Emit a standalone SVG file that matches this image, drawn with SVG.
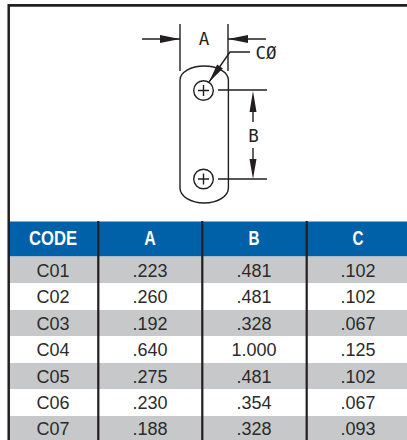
<svg xmlns="http://www.w3.org/2000/svg" width="407" height="440" viewBox="0 0 407 440">
<style>
.b{stroke:#231f20;fill:none}
.r{fill:#c7c8ca}
.h{font-family:"Liberation Sans",Arial,sans-serif;font-weight:700;font-size:19.500px;fill:#fff;text-anchor:middle}
.t{font-family:"Liberation Sans",Arial,sans-serif;font-size:18px;fill:#2b2b2c;text-anchor:middle}
.d{font-family:"DejaVu Sans Mono",monospace;font-size:17.500px;fill:#231f20;text-anchor:middle}
.a{fill:#231f20;stroke:none}
</style>
<rect width="407" height="440" fill="#fff"/>
<g id="table">
<rect x="8" y="221.500" width="399" height="35" fill="#0061a8"/>
<rect class="r" x="8" y="256.500" width="399" height="26.500"/>
<rect class="r" x="8" y="310" width="399" height="26"/>
<rect class="r" x="8" y="363" width="399" height="26"/>
<rect class="r" x="8" y="416" width="399" height="24"/>
<path class="b" stroke-width="2.500" d="M8.700 440V4"/>
<path class="b" stroke-width="2.200" d="M98.300 221V440M202.300 221V440M306.700 221V440"/>
<path class="b" stroke-width="2.800" d="M8 5.400H407"/>
<text class="h" x="53" y="245" textLength="48" lengthAdjust="spacingAndGlyphs">CODE</text><text class="h" x="150" y="245" textLength="11.500" lengthAdjust="spacingAndGlyphs">A</text><text class="h" x="254" y="245" textLength="11" lengthAdjust="spacingAndGlyphs">B</text><text class="h" x="358" y="245" textLength="11" lengthAdjust="spacingAndGlyphs">C</text>
<text class="t" x="53" y="277">C01</text><text class="t" x="150" y="277">.223</text><text class="t" x="254" y="277">.481</text><text class="t" x="358" y="277">.102</text>
<text class="t" x="53" y="303">C02</text><text class="t" x="150" y="303">.260</text><text class="t" x="254" y="303">.481</text><text class="t" x="358" y="303">.102</text>
<text class="t" x="53" y="330">C03</text><text class="t" x="150" y="330">.192</text><text class="t" x="254" y="330">.328</text><text class="t" x="358" y="330">.067</text>
<text class="t" x="53" y="356">C04</text><text class="t" x="150" y="356">.640</text><text class="t" x="254" y="356">1.000</text><text class="t" x="358" y="356">.125</text>
<text class="t" x="53" y="383">C05</text><text class="t" x="150" y="383">.275</text><text class="t" x="254" y="383">.481</text><text class="t" x="358" y="383">.102</text>
<text class="t" x="53" y="409">C06</text><text class="t" x="150" y="409">.230</text><text class="t" x="254" y="409">.354</text><text class="t" x="358" y="409">.067</text>
<text class="t" x="53" y="435">C07</text><text class="t" x="150" y="435">.188</text><text class="t" x="254" y="435">.328</text><text class="t" x="358" y="435">.093</text>
</g>
<g id="part" class="b" stroke-width="1.400">
<path d="M180 80A24.200 14 0 0 1 228.400 80V188A24.200 15 0 0 1 180 188Z" fill="#fff"/>
<circle cx="203.500" cy="90.500" r="9.800"/><path d="M198 90.500H209M203.500 85V96"/>
<circle cx="203.500" cy="179" r="9.800"/><path d="M198 179H209M203.500 173.500V184.500"/>
</g>
<g id="connectors" class="b" stroke-width="1.400">
<path d="M180 24V71M228 24V71M142 39H180M228 39H266M218 90H267M218 179H267M253 112V122M253 148V160"/>
<path d="M209 82L230 52H250"/>
<path class="a" d="M180 39L160 35V43ZM228 39L248 35V43ZM253 91L249.500 112H256.500ZM253 179L249.500 159H256.500ZM209 82L217.100 64.400L222.900 68.400Z"/>
</g>
<g id="labels">
<text class="d" x="204" y="45">A</text>
<text class="d" x="266" y="59">CØ</text>
<text class="d" x="253.500" y="142">B</text>
</g>
</svg>
